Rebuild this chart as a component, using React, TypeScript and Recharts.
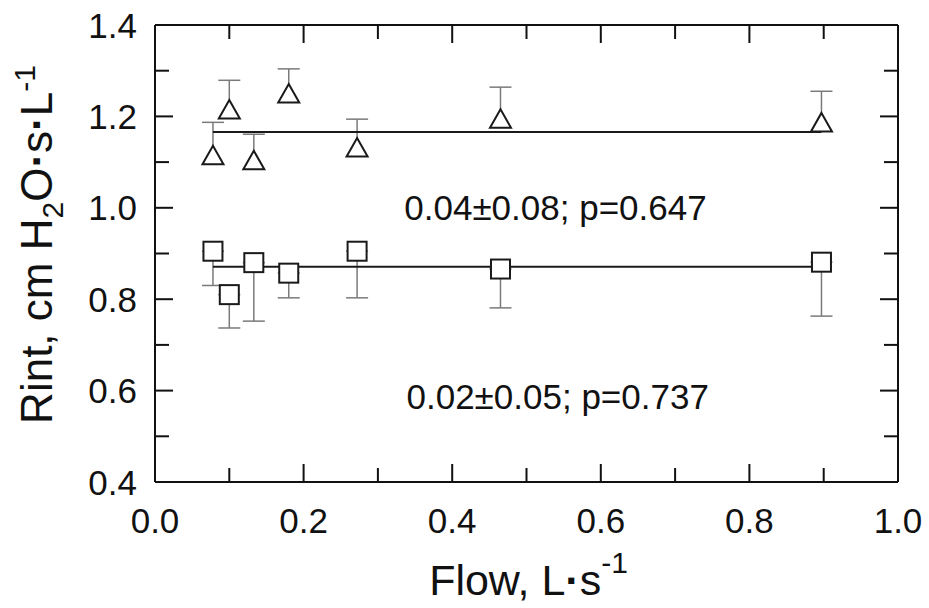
import React from 'react';
import { ComposedChart, Scatter, XAxis, YAxis, ErrorBar, Label } from 'recharts';

const flowX = [0.078, 0.1, 0.133, 0.18, 0.272, 0.465, 0.897];
const triangleRint = [1.116, 1.216, 1.105, 1.251, 1.133, 1.196, 1.188];
const triangleErrUp = [0.071, 0.063, 0.056, 0.053, 0.061, 0.068, 0.067];
const squareRint = [0.905, 0.81, 0.88, 0.857, 0.905, 0.866, 0.881];
const squareErrDown = [0.075, 0.073, 0.128, 0.054, 0.102, 0.085, 0.118];
const triangleFit = 1.166;
const squareFit = 0.871;
const fitRange = [0.078, 0.897];
const xTicks = [0, 0.1, 0.2, 0.3, 0.4, 0.5, 0.6, 0.7, 0.8, 0.9, 1.0];
const yTicks = [0.4, 0.5, 0.6, 0.7, 0.8, 0.9, 1.0, 1.1, 1.2, 1.3, 1.4];
const annotationX = [0.539, 0.542];
const annotationY = [1.0, 0.586];
const annotationText = ['0.04±0.08; p=0.647', '0.02±0.05; p=0.737'];

const triData = flowX.map((x, i) => ({ x, y: triangleRint[i], err: [0, triangleErrUp[i]] }));
const sqData = flowX.map((x, i) => ({ x, y: squareRint[i], err: [squareErrDown[i], 0] }));
const triFitData = fitRange.map((x) => ({ x, y: triangleFit }));
const sqFitData = fitRange.map((x) => ({ x, y: squareFit }));
const annData = annotationText.map((text, i) => ({ x: annotationX[i], y: annotationY[i], text }));

const FONT = '"Liberation Sans", Arial, sans-serif';
const INK = '#111';
const MAJOR = 18;
const MINOR = 14;

const isMajor = (v: number, base: number) => Math.round((v - base) * 10) % 2 === 0;

const BottomTick = (p: any) => {
  const major = isMajor(p.payload.value, 0);
  return (
    <g>
      <line x1={p.x} x2={p.x} y1={p.y} y2={p.y - (major ? MAJOR : MINOR)} stroke={INK} strokeWidth={2} />
      {major && (
        <text x={p.x} y={p.y + 51} textAnchor="middle" fontSize={35} fontFamily={FONT} fill={INK}>
          {p.payload.value.toFixed(1)}
        </text>
      )}
    </g>
  );
};
const TopTick = (p: any) => {
  const major = isMajor(p.payload.value, 0);
  return <line x1={p.x} x2={p.x} y1={p.y} y2={p.y + (major ? MAJOR : MINOR)} stroke={INK} strokeWidth={2} />;
};
const LeftTick = (p: any) => {
  const major = isMajor(p.payload.value, 0.4);
  return (
    <g>
      <line x1={p.x} x2={p.x + (major ? MAJOR : MINOR)} y1={p.y} y2={p.y} stroke={INK} strokeWidth={2} />
      {major && (
        <text x={p.x - 18} y={p.y + 12.5} textAnchor="end" fontSize={35} fontFamily={FONT} fill={INK}>
          {p.payload.value.toFixed(1)}
        </text>
      )}
    </g>
  );
};
const RightTick = (p: any) => {
  const major = isMajor(p.payload.value, 0.4);
  return <line x1={p.x} x2={p.x - (major ? MAJOR : MINOR)} y1={p.y} y2={p.y} stroke={INK} strokeWidth={2} />;
};

const XTitle = (props: any) => {
  const vb = props.viewBox;
  return (
    <text x={vb.x + vb.width / 2 + 2} y={vb.y + 113} textAnchor="middle" fontSize={43} fontFamily={FONT} fill={INK}>
      <tspan>Flow, L</tspan>
      <tspan fontWeight="bold">·</tspan>
      <tspan>s</tspan>
      <tspan fontSize={30} dy={-22}>-1</tspan>
    </text>
  );
};
const YTitle = (props: any) => {
  const vb = props.viewBox;
  const x = vb.x + 52;
  const y = vb.y + vb.height / 2 - 9;
  return (
    <text x={x} y={y} transform={`rotate(-90, ${x}, ${y})`} textAnchor="middle" fontSize={44} fontFamily={FONT} fill={INK}>
      <tspan>Rint, cm H</tspan>
      <tspan fontSize={30} dy={11}>2</tspan>
      <tspan dy={-11}>O</tspan>
      <tspan fontWeight="bold">·</tspan>
      <tspan>s</tspan>
      <tspan fontWeight="bold">·</tspan>
      <tspan>L</tspan>
      <tspan fontSize={30} dy={-17}>-1</tspan>
    </text>
  );
};

const Nothing = () => <g />;
const SquareShape = (p: any) => (
  <rect x={p.cx - 9.5} y={p.cy - 9.5} width={19} height={19} fill="#fff" stroke="#1a1a1a" strokeWidth={2} />
);
const TriangleShape = (p: any) => (
  <g>
    <line x1={p.cx - 12.5} x2={p.cx + 12.5} y1={p.cy} y2={p.cy} stroke="#fff" strokeWidth={3} />
    <polygon
      points={`${p.cx},${p.cy - 9} ${p.cx + 10.5},${p.cy + 9.5} ${p.cx - 10.5},${p.cy + 9.5}`}
      fill="#fff"
      stroke="#1a1a1a"
      strokeWidth={2}
    />
  </g>
);
const AnnShape = (p: any) => (
  <text x={p.cx} y={p.cy + 12} textAnchor="middle" fontSize={35} fontFamily={FONT} fill={INK}>
    {p.payload.text}
  </text>
);

export default function App() {
  return (
    <div style={{ position: 'absolute', left: 0, top: 0, background: '#fff' }}>
      <ComposedChart width={929} height={608} margin={{ top: 0, right: 0, bottom: 0, left: 0 }}>
        <XAxis
          type="number"
          dataKey="x"
          domain={[0, 1]}
          allowDataOverflow
          ticks={xTicks}
          interval={0}
          height={126}
          tickSize={0}
          tickMargin={0}
          tickLine={false}
          tick={(p: any) => <BottomTick {...p} />}
          axisLine={{ stroke: INK, strokeWidth: 2 }}
        >
          <Label content={(p: any) => <XTitle {...p} />} />
        </XAxis>
        <XAxis
          xAxisId="top"
          orientation="top"
          type="number"
          dataKey="x"
          domain={[0, 1]}
          allowDataOverflow
          ticks={xTicks}
          interval={0}
          height={25}
          tickSize={0}
          tickMargin={0}
          tickLine={false}
          tick={(p: any) => <TopTick {...p} />}
          axisLine={{ stroke: INK, strokeWidth: 2 }}
        />
        <YAxis
          type="number"
          dataKey="y"
          domain={[0.4, 1.4]}
          allowDataOverflow
          ticks={yTicks}
          interval={0}
          width={155}
          tickSize={0}
          tickMargin={0}
          tickLine={false}
          tick={(p: any) => <LeftTick {...p} />}
          axisLine={{ stroke: INK, strokeWidth: 2 }}
        >
          <Label content={(p: any) => <YTitle {...p} />} />
        </YAxis>
        <YAxis
          yAxisId="right"
          orientation="right"
          type="number"
          dataKey="y"
          domain={[0.4, 1.4]}
          allowDataOverflow
          ticks={yTicks}
          interval={0}
          width={31}
          tickSize={0}
          tickMargin={0}
          tickLine={false}
          tick={(p: any) => <RightTick {...p} />}
          axisLine={{ stroke: INK, strokeWidth: 2 }}
        />
        <Scatter data={triFitData} line={{ stroke: '#1a1a1a', strokeWidth: 2 }} shape={Nothing} isAnimationActive={false} />
        <Scatter data={sqFitData} line={{ stroke: '#1a1a1a', strokeWidth: 2 }} shape={Nothing} isAnimationActive={false} />
        <Scatter data={triData} shape={Nothing} isAnimationActive={false}>
          <ErrorBar dataKey="err" direction="y" width={11} stroke="#7a7a7a" strokeWidth={1.5} isAnimationActive={false} />
        </Scatter>
        <Scatter data={sqData} shape={Nothing} isAnimationActive={false}>
          <ErrorBar dataKey="err" direction="y" width={11} stroke="#7a7a7a" strokeWidth={1.5} isAnimationActive={false} />
        </Scatter>
        <Scatter data={triData} shape={(p: any) => <TriangleShape {...p} />} isAnimationActive={false} />
        <Scatter data={sqData} shape={(p: any) => <SquareShape {...p} />} isAnimationActive={false} />
        <Scatter data={annData} shape={(p: any) => <AnnShape {...p} />} isAnimationActive={false} />
      </ComposedChart>
    </div>
  );
}
